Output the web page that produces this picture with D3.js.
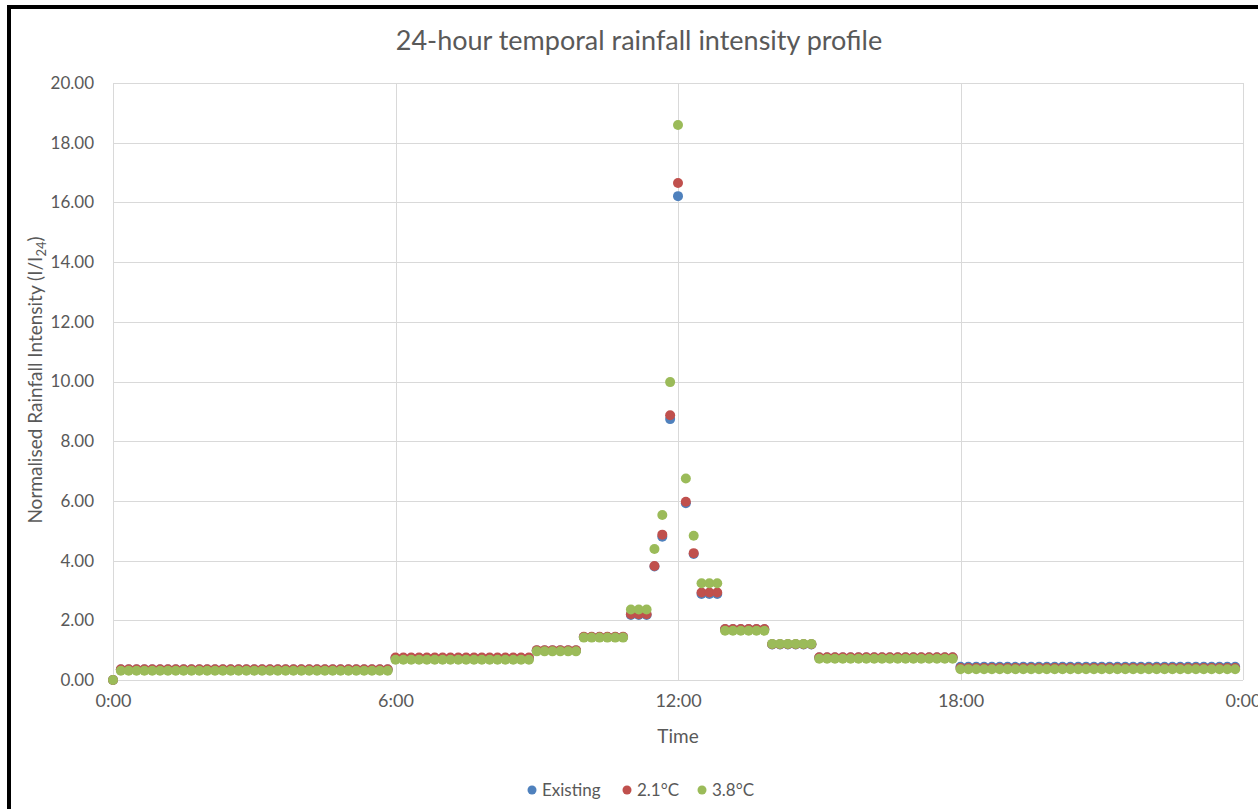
<!DOCTYPE html>
<html>
<head>
    <meta charset="utf-8">
    <title>24-hour temporal rainfall intensity profile</title>
    <script src="https://d3js.org/d3.v7.min.js"></script>
    <style>
        body { margin: 0; background: #fff; }
        text { font-family: Lato, "Open Sans", sans-serif; fill: #595959; }
    </style>
</head>

<body>
<div id="chart"></div>
<script type="text/javascript">

    // time of each point, in minutes after midnight (10 minute steps)
    let minutes = [
        0, 10, 20, 30, 40, 50, 60, 70, 80, 90, 100, 110,
        120, 130, 140, 150, 160, 170, 180, 190, 200, 210, 220, 230,
        240, 250, 260, 270, 280, 290, 300, 310, 320, 330, 340, 350,
        360, 370, 380, 390, 400, 410, 420, 430, 440, 450, 460, 470,
        480, 490, 500, 510, 520, 530, 540, 550, 560, 570, 580, 590,
        600, 610, 620, 630, 640, 650, 660, 670, 680, 690, 700, 710,
        720, 730, 740, 750, 760, 770, 780, 790, 800, 810, 820, 830,
        840, 850, 860, 870, 880, 890, 900, 910, 920, 930, 940, 950,
        960, 970, 980, 990, 1000, 1010, 1020, 1030, 1040, 1050, 1060, 1070,
        1080, 1090, 1100, 1110, 1120, 1130, 1140, 1150, 1160, 1170, 1180, 1190,
        1200, 1210, 1220, 1230, 1240, 1250, 1260, 1270, 1280, 1290, 1300, 1310,
        1320, 1330, 1340, 1350, 1360, 1370, 1380, 1390, 1400, 1410, 1420, 1430
    ];

    let existing = [
        0.00, 0.35, 0.35, 0.35, 0.35, 0.35, 0.35, 0.35, 0.35, 0.35, 0.35, 0.35,
        0.35, 0.35, 0.35, 0.35, 0.35, 0.35, 0.35, 0.35, 0.35, 0.35, 0.35, 0.35,
        0.35, 0.35, 0.35, 0.35, 0.35, 0.35, 0.35, 0.35, 0.35, 0.35, 0.35, 0.35,
        0.74, 0.74, 0.74, 0.74, 0.74, 0.74, 0.74, 0.74, 0.74, 0.74, 0.74, 0.74,
        0.74, 0.74, 0.74, 0.74, 0.74, 0.74, 0.99, 0.99, 0.99, 0.99, 0.99, 0.99,
        1.44, 1.44, 1.44, 1.44, 1.44, 1.44, 2.18, 2.18, 2.18, 3.80, 4.80, 8.74,
        16.21, 5.92, 4.22, 2.88, 2.88, 2.88, 1.70, 1.70, 1.70, 1.70, 1.70, 1.70,
        1.19, 1.19, 1.19, 1.19, 1.19, 1.19, 0.75, 0.75, 0.75, 0.75, 0.75, 0.75,
        0.75, 0.75, 0.75, 0.75, 0.75, 0.75, 0.75, 0.75, 0.75, 0.75, 0.75, 0.75,
        0.44, 0.44, 0.44, 0.44, 0.44, 0.44, 0.44, 0.44, 0.44, 0.44, 0.44, 0.44,
        0.44, 0.44, 0.44, 0.44, 0.44, 0.44, 0.44, 0.44, 0.44, 0.44, 0.44, 0.44,
        0.44, 0.44, 0.44, 0.44, 0.44, 0.44, 0.44, 0.44, 0.44, 0.44, 0.44, 0.44
    ];

    let warming21 = [
        0.00, 0.36, 0.36, 0.36, 0.36, 0.36, 0.36, 0.36, 0.36, 0.36, 0.36, 0.36,
        0.36, 0.36, 0.36, 0.36, 0.36, 0.36, 0.36, 0.36, 0.36, 0.36, 0.36, 0.36,
        0.36, 0.36, 0.36, 0.36, 0.36, 0.36, 0.36, 0.36, 0.36, 0.36, 0.36, 0.36,
        0.75, 0.75, 0.75, 0.75, 0.75, 0.75, 0.75, 0.75, 0.75, 0.75, 0.75, 0.75,
        0.75, 0.75, 0.75, 0.75, 0.75, 0.75, 1.00, 1.00, 1.00, 1.00, 1.00, 1.00,
        1.45, 1.45, 1.45, 1.45, 1.45, 1.45, 2.20, 2.20, 2.20, 3.82, 4.87, 8.87,
        16.65, 5.97, 4.25, 2.93, 2.93, 2.93, 1.71, 1.71, 1.71, 1.71, 1.71, 1.71,
        1.20, 1.20, 1.20, 1.20, 1.20, 1.20, 0.76, 0.76, 0.76, 0.76, 0.76, 0.76,
        0.76, 0.76, 0.76, 0.76, 0.76, 0.76, 0.76, 0.76, 0.76, 0.76, 0.76, 0.76,
        0.40, 0.40, 0.40, 0.40, 0.40, 0.40, 0.40, 0.40, 0.40, 0.40, 0.40, 0.40,
        0.40, 0.40, 0.40, 0.40, 0.40, 0.40, 0.40, 0.40, 0.40, 0.40, 0.40, 0.40,
        0.40, 0.40, 0.40, 0.40, 0.40, 0.40, 0.40, 0.40, 0.40, 0.40, 0.40, 0.40
    ];

    let warming38 = [
        0.00, 0.31, 0.31, 0.31, 0.31, 0.31, 0.31, 0.31, 0.31, 0.31, 0.31, 0.31,
        0.31, 0.31, 0.31, 0.31, 0.31, 0.31, 0.31, 0.31, 0.31, 0.31, 0.31, 0.31,
        0.31, 0.31, 0.31, 0.31, 0.31, 0.31, 0.31, 0.31, 0.31, 0.31, 0.31, 0.31,
        0.68, 0.68, 0.68, 0.68, 0.68, 0.68, 0.68, 0.68, 0.68, 0.68, 0.68, 0.68,
        0.68, 0.68, 0.68, 0.68, 0.68, 0.68, 0.96, 0.96, 0.96, 0.96, 0.96, 0.96,
        1.42, 1.42, 1.42, 1.42, 1.42, 1.42, 2.36, 2.36, 2.36, 4.39, 5.53, 9.98,
        18.59, 6.75, 4.83, 3.24, 3.24, 3.24, 1.65, 1.65, 1.65, 1.65, 1.65, 1.65,
        1.21, 1.21, 1.21, 1.21, 1.21, 1.21, 0.71, 0.71, 0.71, 0.71, 0.71, 0.71,
        0.71, 0.71, 0.71, 0.71, 0.71, 0.71, 0.71, 0.71, 0.71, 0.71, 0.71, 0.71,
        0.36, 0.36, 0.36, 0.36, 0.36, 0.36, 0.36, 0.36, 0.36, 0.36, 0.36, 0.36,
        0.36, 0.36, 0.36, 0.36, 0.36, 0.36, 0.36, 0.36, 0.36, 0.36, 0.36, 0.36,
        0.36, 0.36, 0.36, 0.36, 0.36, 0.36, 0.36, 0.36, 0.36, 0.36, 0.36, 0.36
    ];

    let seriesNames = ["Existing", "2.1°C", "3.8°C"];
    let seriesColors = ["#4F81BD", "#C0504D", "#9BBB59"];
    let xTicks = [0, 360, 720, 1080, 1440];
    let xTickLabels = ["0:00", "6:00", "12:00", "18:00", "0:00"];
    let yTicks = [0, 2, 4, 6, 8, 10, 12, 14, 16, 18, 20];

    let width = 1258, height = 809;
    let margin = {top: 83, right: 15, bottom: 129, left: 113};
    let w = width - margin.left - margin.right;
    let h = height - margin.top - margin.bottom;

    let svg = d3.select("#chart")
        .append("svg")
            .attr("width", width)
            .attr("height", height);

    // chart area border (thick black, runs off the right and bottom edges)
    svg.append("rect")
        .attr("x", 9)
        .attr("y", 7)
        .attr("width", width + 20)
        .attr("height", height + 20)
        .attr("fill", "#fff")
        .attr("stroke", "#000")
        .attr("stroke-width", 4);

    svg.append("text")
        .attr("x", 639)
        .attr("y", 50)
        .attr("text-anchor", "middle")
        .attr("font-size", "27px")
        .text("24-hour temporal rainfall intensity profile");

    let g = svg.append("g")
        .attr("transform", "translate(" + margin.left + "," + margin.top + ")");

    let xScale = d3.scaleLinear().domain([0, 1440]).range([0, w]);
    let yScale = d3.scaleLinear().domain([0, 20]).range([h, 0]);

    // gridlines
    g.append("g")
        .selectAll("line")
        .data(yTicks)
        .enter()
        .append("line")
        .attr("x1", 0)
        .attr("x2", w)
        .attr("y1", d => Math.round(yScale(d)) + 0.5)
        .attr("y2", d => Math.round(yScale(d)) + 0.5)
        .attr("stroke", "#d9d9d9");

    g.append("g")
        .selectAll("line")
        .data(xTicks)
        .enter()
        .append("line")
        .attr("x1", d => Math.round(xScale(d)) + 0.5)
        .attr("x2", d => Math.round(xScale(d)) + 0.5)
        .attr("y1", 0)
        .attr("y2", h)
        .attr("stroke", "#d9d9d9");

    let yAxis = d3.axisLeft(yScale)
        .tickValues(yTicks)
        .tickSize(0)
        .tickPadding(19)
        .tickFormat(d3.format(".2f"));

    g.append("g")
        .call(yAxis)
        .call(a => a.select(".domain").remove())
        .selectAll("text")
            .attr("font-size", "17px")
            .attr("font-family", "Lato, sans-serif")
            .attr("fill", "#595959");

    let xAxis = d3.axisBottom(xScale)
        .tickValues(xTicks)
        .tickSize(0)
        .tickPadding(14)
        .tickFormat((d, i) => xTickLabels[i]);

    g.append("g")
        .attr("transform", "translate(0," + h + ")")
        .call(xAxis)
        .call(a => a.select(".domain").remove())
        .selectAll("text")
            .attr("font-size", "18px")
            .attr("font-family", "Lato, sans-serif")
            .attr("fill", "#595959");

    // axis titles
    g.append("text")
        .attr("x", xScale(720))
        .attr("y", h + 63)
        .attr("text-anchor", "middle")
        .attr("font-size", "19px")
        .text("Time");

    let yTitle = svg.append("text")
        .attr("transform", "translate(42,380) rotate(-90)")
        .attr("text-anchor", "middle")
        .attr("font-size", "19px");
    yTitle.append("tspan").text("Normalised Rainfall Intensity (I/I");
    yTitle.append("tspan").attr("font-size", "13px").attr("dy", 4).text("24");
    yTitle.append("tspan").attr("dy", -4).text(")");

    // points, drawn series by series so 3.8°C sits on top
    let allSeries = [existing, warming21, warming38];
    allSeries.forEach(function(values, s) {
        g.append("g")
            .selectAll("circle")
            .data(values)
            .enter()
            .append("circle")
            .attr("cx", (d, i) => xScale(minutes[i]))
            .attr("cy", d => yScale(d))
            .attr("r", 5)
            .attr("fill", seriesColors[s]);
    });

    // legend
    let legendX = [532, 627, 702];
    let legend = svg.append("g");
    seriesNames.forEach(function(name, s) {
        legend.append("circle")
            .attr("cx", legendX[s])
            .attr("cy", 790)
            .attr("r", 4.5)
            .attr("fill", seriesColors[s]);
        legend.append("text")
            .attr("x", legendX[s] + 10)
            .attr("y", 796)
            .attr("font-size", "17px")
            .text(name);
    });

</script>
</body>
</html>
